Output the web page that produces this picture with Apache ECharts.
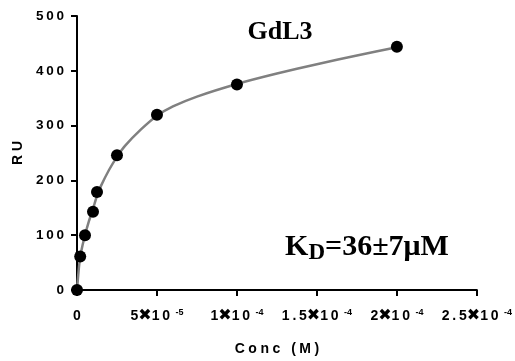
<!DOCTYPE html>
<html>
<head>
<meta charset="utf-8">
<script src="https://cdn.jsdelivr.net/npm/echarts@6/dist/echarts.min.js"></script>
<style>
  html, body { margin: 0; padding: 0; background: #fff; }
  #chart { width: 515px; height: 361px; }
</style>
</head>
<body>
<div id="chart"></div>
<script>
// Binding curve: measured RU vs concentration, plus the fitted curve
// (fit values read off the plot).
const concM = [0, 2e-6, 5e-6, 10e-6, 12.5e-6, 25e-6, 50e-6, 100e-6, 200e-6];
const ru = [0, 61, 100, 143, 179, 246, 320, 375, 444];

const fitConcM = [0, 1e-6, 2e-6, 3.5e-6, 5e-6, 7.5e-6, 10e-6, 12.5e-6, 15e-6, 20e-6,
  25e-6, 30e-6, 40e-6, 50e-6, 60e-6, 75e-6, 100e-6, 125e-6, 150e-6, 175e-6, 200e-6];
const fitRU = [0, 35, 60, 82, 100, 126, 148, 172, 190, 219,
  243, 263, 293, 318, 335, 353, 376, 395, 412, 428, 443];

const xTickMantissa = ["0", "5", "1", "1.5", "2", "2.5"];
const xTickExp = ["", "-5", "-4", "-4", "-4", "-4"];

const SANS = "'Liberation Sans', 'DejaVu Sans', sans-serif";
const SERIF = "'Liberation Serif', 'DejaVu Serif', serif";
const SP = "\u2009"; // thin space to mimic the wide letter spacing
const WIDE = "\u2005";

function spaced(s, gap) {
  return s.split("").join(gap || SP);
}

const chart = echarts.init(document.getElementById("chart"), null, { renderer: "canvas" });

const axisLine = { lineStyle: { color: "#000", width: 2 } };

chart.setOption({
  animation: false,
  grid: { left: 77, right: 38, top: 16, bottom: 70 },
  xAxis: {
    type: "value",
    min: 0,
    max: 2.5e-4,
    interval: 5e-5,
    name: spaced("Conc (M)", WIDE),
    nameLocation: "middle",
    nameGap: 52,
    nameTextStyle: { color: "#000", fontFamily: SANS, fontWeight: "bold", fontSize: 14 },
    axisLine: axisLine,
    axisTick: { show: true, inside: false, length: 6, lineStyle: { color: "#000", width: 2 } },
    splitLine: { show: false },
    axisLabel: {
      margin: 18,
      color: "#000",
      formatter: (val) => {
        const i = Math.round(val / 5e-5);
        if (!xTickExp[i]) return "{b|" + xTickMantissa[i] + "}";
        return "{b|" + spaced(xTickMantissa[i]) + "}{x|\u2716}{b|" + spaced("10") + "}{s|" + SP + SP + SP + xTickExp[i] + "}";
      },
      rich: {
        b: { fontFamily: SANS, fontWeight: "bold", fontSize: 14, color: "#000", lineHeight: 16 },
        x: { fontFamily: "'DejaVu Sans'", fontSize: 16, color: "#000", lineHeight: 16 },
        s: { fontFamily: SANS, fontWeight: "bold", fontSize: 9, color: "#000", verticalAlign: "top", lineHeight: 9 },
      },
    },
  },
  yAxis: {
    type: "value",
    min: 0,
    max: 500,
    interval: 100,
    name: "R U",
    nameLocation: "middle",
    nameGap: 52,
    nameRotate: 90,
    nameTextStyle: { color: "#000", fontFamily: SANS, fontWeight: "bold", fontSize: 14 },
    axisLine: axisLine,
    axisTick: { show: true, inside: false, length: 6, lineStyle: { color: "#000", width: 2 } },
    splitLine: { show: false },
    axisLabel: {
      margin: 13,
      color: "#000",
      fontFamily: SANS,
      fontWeight: "bold",
      fontSize: 13.5,
      formatter: (val) => spaced(String(val)),
    },
  },
  graphic: [
    {
      type: "text",
      x: 280,
      y: 32,
      style: {
        text: "GdL3",
        fill: "#000",
        font: "bold 26px " + SERIF,
        align: "center",
        verticalAlign: "middle",
      },
    },
    {
      type: "text",
      x: 367,
      y: 245,
      style: {
        text: "{k|K}{d|D}{k|=36\u00b17\u03bcM}",
        align: "center",
        verticalAlign: "middle",
        rich: {
          k: { fontFamily: SERIF, fontWeight: "bold", fontSize: 30, color: "#000", lineHeight: 34, verticalAlign: "bottom" },
          d: { fontFamily: SERIF, fontWeight: "bold", fontSize: 23, color: "#000", lineHeight: 27, verticalAlign: "bottom", padding: [0, 0, -3, 0] },
        },
      },
    },
  ],
  series: [
    {
      type: "line",
      data: fitConcM.map((c, i) => [c, fitRU[i]]),
      showSymbol: false,
      smooth: 0.2,
      lineStyle: { color: "#808080", width: 2.5 },
      itemStyle: { color: "#808080" },
      z: 2,
    },
    {
      type: "scatter",
      data: concM.map((c, i) => [c, ru[i]]),
      symbol: "circle",
      symbolSize: 12,
      itemStyle: { color: "#000", opacity: 1 },
      clip: false,
      z: 3,
    },
  ],
});
</script>
</body>
</html>
